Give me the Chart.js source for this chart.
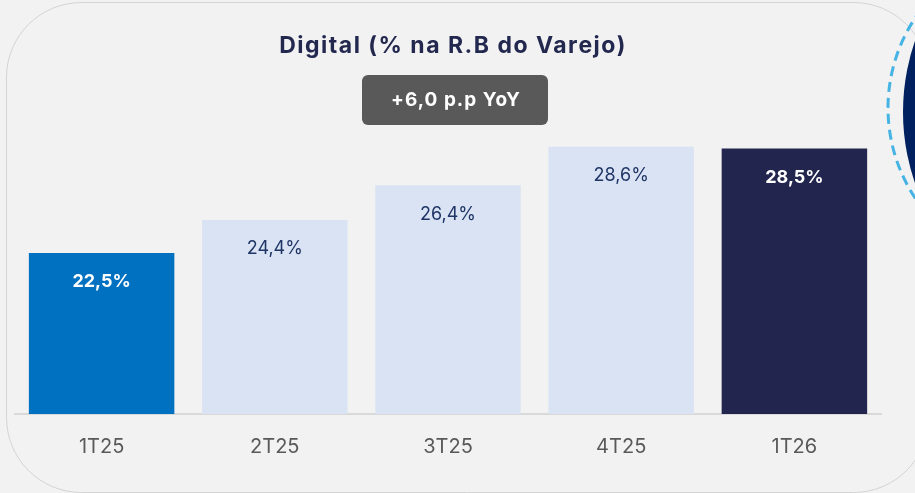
<!DOCTYPE html>
<html>
<head>
<meta charset="utf-8">
<script src="https://cdn.jsdelivr.net/npm/chart.js@4"></script>
<style>
  html, body { margin: 0; padding: 0; background: #f2f2f2; }
  #wrap { position: relative; width: 915px; height: 493px; overflow: hidden; }
  canvas { position: absolute; left: 0; top: 0; }
</style>
</head>
<body>
<div id="wrap"><canvas id="digitalChart" width="915" height="493"></canvas></div>
<script>
// dados
const categories = ["1T25", "2T25", "3T25", "4T25", "1T26"];
const digitalShare = [22.5, 24.4, 26.4, 28.6, 28.5];
const valueLabels = ["22,5%", "24,4%", "26,4%", "28,6%", "28,5%"];
const titleText = "Digital (% na R.B do Varejo)";
const badgeText = "+6,0 p.p YoY";

const barColors = ["#0070c0", "#dae3f3", "#dae3f3", "#dae3f3", "#22264f"];
const labelColors = ["#ffffff", "#1f3566", "#1f3566", "#1f3566", "#ffffff"];
const labelBold = [true, false, false, false, true];

function roundRect(ctx, x, y, w, h, r) {
  ctx.beginPath();
  ctx.moveTo(x + r, y);
  ctx.lineTo(x + w - r, y);
  ctx.arcTo(x + w, y, x + w, y + r, r);
  ctx.lineTo(x + w, y + h - r);
  ctx.arcTo(x + w, y + h, x + w - r, y + h, r);
  ctx.lineTo(x + r, y + h);
  ctx.arcTo(x, y + h, x, y + h - r, r);
  ctx.lineTo(x, y + r);
  ctx.arcTo(x, y, x + r, y, r);
  ctx.closePath();
}

// fundo: cartão, título, selo e círculo decorativo
const decorPlugin = {
  id: "decor",
  beforeDraw(chart) {
    const ctx = chart.ctx;
    ctx.save();
    ctx.fillStyle = "#f2f2f2";
    ctx.fillRect(0, 0, chart.width, chart.height);
    roundRect(ctx, 6.5, 2.5, 922, 490, 75);
    ctx.strokeStyle = "#d4d4d4";
    ctx.lineWidth = 1;
    ctx.stroke();

    // título
    ctx.fillStyle = "#23284f";
    ctx.font = "bold 23px Inter, sans-serif";
    ctx.letterSpacing = "1.5px";
    ctx.textAlign = "center";
    ctx.textBaseline = "middle";
    ctx.fillText(titleText, 453, 46);

    // selo
    roundRect(ctx, 362, 75, 186, 50, 6);
    ctx.fillStyle = "#595959";
    ctx.fill();
    ctx.fillStyle = "#ffffff";
    ctx.font = "bold 19px Inter, sans-serif";
    ctx.letterSpacing = "1px";
    ctx.fillText(badgeText, 456, 100);
    ctx.letterSpacing = "0px";

    // círculo da direita
    ctx.beginPath();
    ctx.arc(1120, 112, 217, 0, Math.PI * 2);
    ctx.fillStyle = "#002060";
    ctx.fill();
    ctx.beginPath();
    ctx.arc(1051, 108, 163, 0, Math.PI * 2);
    ctx.setLineDash([10, 6]);
    ctx.lineWidth = 3;
    ctx.strokeStyle = "#45b3e3";
    ctx.stroke();
    ctx.restore();
  },
  afterDatasetsDraw(chart) {
    const ctx = chart.ctx;
    const bars = chart.getDatasetMeta(0).data;
    ctx.save();
    ctx.textAlign = "center";
    ctx.textBaseline = "middle";
    bars.forEach((bar, i) => {
      ctx.font = (labelBold[i] ? "bold " : "") + "18px Inter, sans-serif";
      ctx.fillStyle = labelColors[i];
      ctx.fillText(valueLabels[i], bar.x, bar.y + 29);
    });
    ctx.restore();
  },
};

const ctx = document.getElementById("digitalChart").getContext("2d");
new Chart(ctx, {
  type: "bar",
  data: {
    labels: categories,
    datasets: [
      {
        data: digitalShare,
        backgroundColor: barColors,
        borderWidth: 0,
        barPercentage: 0.84,
        categoryPercentage: 1,
      },
    ],
  },
  options: {
    responsive: false,
    animation: false,
    layout: {
      padding: { left: 15, right: 34, top: 122.5, bottom: 13 },
    },
    scales: {
      y: {
        display: false,
        min: 13.25,
        max: 30,
      },
      x: {
        grid: { display: false, drawTicks: false },
        border: { display: true, color: "#d9d9d9", width: 2 },
        ticks: {
          color: "#595959",
          padding: 21,
          font: { family: "Inter, sans-serif", size: 20 },
        },
      },
    },
    plugins: {
      legend: { display: false },
      tooltip: { enabled: false },
    },
  },
  plugins: [decorPlugin],
});
</script>
</body>
</html>
